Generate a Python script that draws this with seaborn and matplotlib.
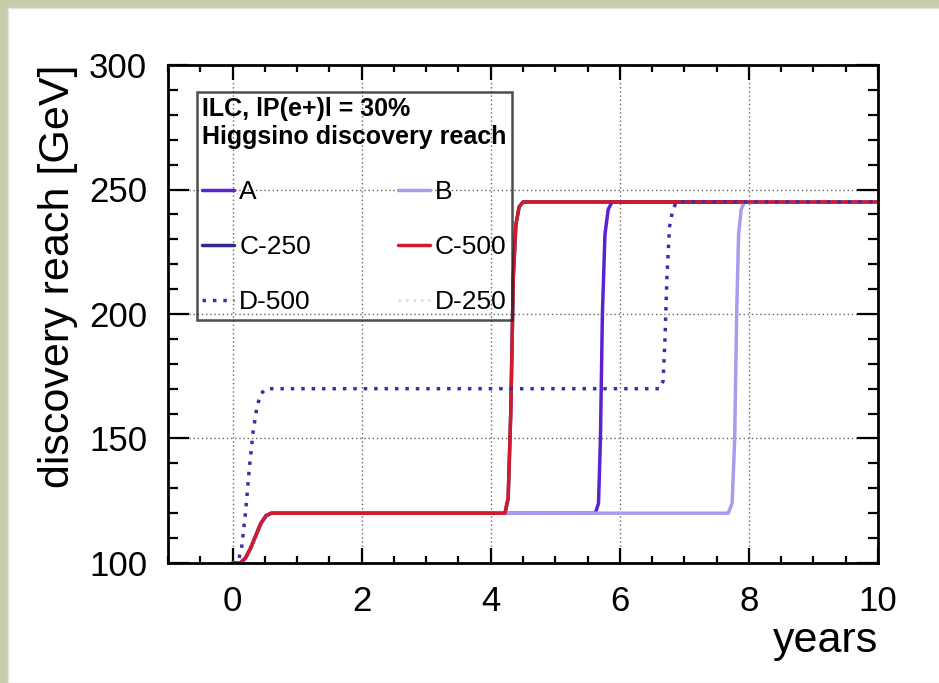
import numpy as np
import pandas as pd
import matplotlib
matplotlib.use('Agg')
import matplotlib.pyplot as plt
from matplotlib.patches import Rectangle
from matplotlib.ticker import MultipleLocator
import seaborn as sns

# Datos (anos, alcance en GeV)
anos_A = [0.0, 0.12, 0.2, 0.28, 0.36, 0.44, 0.52, 0.6, 5.62, 5.67, 5.7, 5.73, 5.77, 5.82, 5.88, 10.0]
gev_A = [100, 100, 102, 106, 111, 116, 119, 120, 120, 124, 150, 200, 232, 242, 245, 245]

anos_B = [0.0, 0.12, 0.2, 0.28, 0.36, 0.44, 0.52, 0.6, 7.68, 7.74, 7.78, 7.81, 7.84, 7.88, 7.93, 10.0]
gev_B = [100, 100, 102, 106, 111, 116, 119, 120, 120, 124, 150, 200, 232, 242, 245, 245]

anos_C250 = [0.0, 0.12, 0.2, 0.28, 0.36, 0.44, 0.52, 0.6, 4.22, 4.27, 4.31, 4.35, 4.39, 4.44, 4.5, 10.0]
gev_C250 = [100, 100, 102, 106, 111, 116, 119, 120, 120, 126, 160, 215, 236, 243, 245, 245]

anos_C500 = [0.0, 0.12, 0.2, 0.28, 0.36, 0.44, 0.52, 0.6, 4.22, 4.27, 4.31, 4.35, 4.39, 4.44, 4.5, 10.0]
gev_C500 = [100, 100, 102, 106, 111, 116, 119, 120, 120, 126, 160, 215, 236, 243, 245, 245]

anos_D500 = [0.0, 0.08, 0.14, 0.2, 0.26, 0.32, 0.38, 0.44, 0.52, 6.62, 6.67, 6.7, 6.73, 6.77, 6.82, 6.88, 10.0]
gev_D500 = [100, 100, 106, 120, 138, 153, 163, 168, 170, 170, 173, 190, 215, 235, 242, 245, 245]

anos_D250 = [0.0, 0.12, 0.2, 0.28, 0.36, 0.44, 0.52, 0.6, 7.68, 7.74, 7.78, 7.81, 7.84, 7.88, 7.93, 10.0]
gev_D250 = [100, 100, 102, 106, 111, 116, 119, 120, 120, 124, 150, 200, 232, 242, 245, 245]

sns.set_theme(style='ticks')
plt.rcParams['font.family'] = ['Liberation Sans', 'DejaVu Sans']
plt.rcParams['text.color'] = 'black'
plt.rcParams['axes.labelcolor'] = 'black'
plt.rcParams['xtick.color'] = 'black'
plt.rcParams['ytick.color'] = 'black'

fig = plt.figure(figsize=(9.39, 6.83), dpi=100)
fig.patch.set_facecolor('#C8CCAA')
panel = Rectangle((8 / 939, 0), 1, 1 - 8 / 683, transform=fig.transFigure,
                  facecolor='white', edgecolor='#E4E4E4', linewidth=1, zorder=-10)
fig.add_artist(panel)
ax = fig.add_axes([168 / 939, 120 / 683, 710 / 939, 498 / 683])
ax.set_zorder(5)
ax.set_facecolor('none')

# orden de dibujo: las curvas de abajo primero
series = [
    ('A', anos_A, gev_A, '#5B22CF', '-', 2.5),
    ('C-250', anos_C250, gev_C250, '#2E2A8E', '-', 2.5),
    ('D-250', anos_D250, gev_D250, '#D8D5F3', (0, (1, 2)), 1.8),
    ('B', anos_B, gev_B, '#A99CF0', '-', 2.5),
    ('C-500', anos_C500, gev_C500, '#CF1B2C', '-', 2.5),
    ('D-500', anos_D500, gev_D500, '#3B2FA5', (0, (1, 2)), 2.5),
]
handles = {}
for nombre, xs, ys, color, estilo, grosor in series:
    df = pd.DataFrame({'years': xs, 'reach': ys})
    sns.lineplot(data=df, x='years', y='reach', ax=ax, color=color, linestyle=estilo,
                 linewidth=grosor, estimator=None, sort=False, label=nombre)
    handles[nombre] = ax.get_lines()[-1]

ax.set_xlim(-1, 10)
ax.set_ylim(100, 300)
ax.xaxis.set_major_locator(MultipleLocator(2))
ax.xaxis.set_minor_locator(MultipleLocator(0.5))
ax.yaxis.set_major_locator(MultipleLocator(50))
ax.yaxis.set_minor_locator(MultipleLocator(10))
ax.grid(True, which='major', color='#666666', linestyle=(0, (1, 2)), linewidth=1)
ax.tick_params(axis='both', which='both', direction='in', top=True, right=True,
               width=1.6, color='black', labelsize=25, labelcolor='black')
ax.tick_params(axis='x', which='major', length=11, pad=16)
ax.tick_params(axis='x', which='minor', length=5)
ax.tick_params(axis='y', which='major', length=15, pad=15)
ax.tick_params(axis='y', which='minor', length=7)
for s in ax.spines.values():
    s.set_linewidth(2)
    s.set_color('black')

ax.set_xlabel('years', fontsize=31, loc='right', labelpad=2)
ax.set_ylabel('discovery reach [GeV]', fontsize=31, loc='top', labelpad=8)

orden = ['A', 'C-250', 'D-500', 'B', 'C-500', 'D-250']
leg = ax.legend([handles[n] for n in orden], orden, ncol=2, loc='upper left',
                bbox_to_anchor=(0.041, 0.502, 0.4435, 0.444), mode='expand',
                fontsize=19, title='ILC, lP(e+)l = 30%\nHiggsino discovery reach',
                title_fontproperties={'weight': 'bold', 'size': 18}, alignment='left',
                frameon=True, fancybox=False, edgecolor='black',
                handlelength=1.2, handletextpad=0.2, labelspacing=1.18,
                borderpad=0.2, borderaxespad=0, columnspacing=1.0)
leg.get_frame().set_linewidth(1.8)
leg.get_frame().set_facecolor('none')
leg.get_frame().set_edgecolor('#222222')

fig.savefig('out.png', dpi=100, facecolor=fig.get_facecolor())
